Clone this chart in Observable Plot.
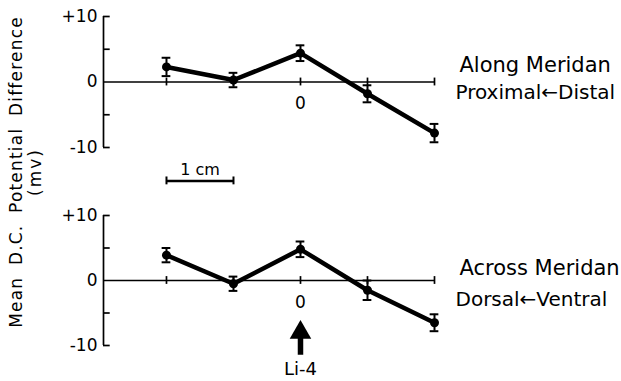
<!DOCTYPE html>
<html>
<head>
<meta charset="utf-8">
<script src="https://cdn.jsdelivr.net/npm/d3@7"></script>
<script src="https://cdn.jsdelivr.net/npm/@observablehq/plot@0.6"></script>
<style>
  html, body { margin: 0; padding: 0; background: #fff; }
  #wrap { position: relative; width: 621px; height: 381px; overflow: hidden; font-family: "DejaVu Sans", sans-serif; color: #000; }
  #wrap svg { position: absolute; left: 0; }
  .ytitle { position: absolute; white-space: nowrap; transform: translate(-50%, -50%) rotate(-90deg); font-size: 17px; letter-spacing: 1.2px; word-spacing: 5px; }
</style>
</head>
<body>
<div id="wrap"></div>
<script>
// positions along the line (cm from Li-4)
const positions = [-2, -1, 0, 1, 2];
// Along meridian (proximal <- distal)
const alongMean = [2.3, 0.3, 4.4, -1.8, -7.8];
const alongErr  = [1.4, 1.1, 1.2, 1.3, 1.4];
// Across meridian (dorsal <- ventral)
const acrossMean = [3.9, -0.5, 4.8, -1.5, -6.5];
const acrossErr  = [1.1, 1.1, 1.2, 1.5, 1.3];
// axis ticks & labels
const yTicks = [-10, -5, 0, 5, 10];
const yTickLabels = [{v: 10, t: "+10"}, {v: 0, t: "0"}, {v: -10, t: "-10"}];
const xLabelled = [{v: 0, t: "0"}];
const xMin = -2.94, xMax = 2;

const font = "DejaVu Sans, sans-serif";

function panel(means, errs, opts) {
  const data = positions.map((x, i) => ({x, y: means[i], lo: means[i] - errs[i], hi: means[i] + errs[i]}));
  const cap = 0.065;
  const marks = [
    // axes
    Plot.ruleX([xMin], {y1: -10, y2: 10, stroke: "black", strokeWidth: 1.7}),
    Plot.ruleY(yTicks.filter(d => d !== 0), {x1: xMin, x2: xMin + 0.1, stroke: "black", strokeWidth: 1.7}),
    Plot.ruleY([0], {x1: xMin, x2: xMax, stroke: "black", strokeWidth: 1.7}),
    Plot.ruleX(positions, {y1: -0.6, y2: 0.6, stroke: "black", strokeWidth: 1.7}),
    Plot.text(yTickLabels, {x: xMin, y: "v", text: "t", dx: -6, textAnchor: "end", fontSize: 17, fontFamily: font}),
    Plot.text(xLabelled, {x: "v", y: 0, text: "t", dy: 22, fontSize: 17, fontFamily: font}),
    // error bars
    Plot.ruleX(data, {x: "x", y1: "lo", y2: "hi", stroke: "black", strokeWidth: 2}),
    Plot.ruleY(data, {y: "hi", x1: d => d.x - cap, x2: d => d.x + cap, stroke: "black", strokeWidth: 2}),
    Plot.ruleY(data, {y: "lo", x1: d => d.x - cap, x2: d => d.x + cap, stroke: "black", strokeWidth: 2}),
    // line + dots
    Plot.line(data, {x: "x", y: "y", stroke: "black", strokeWidth: 4.5}),
    Plot.dot(data, {x: "x", y: "y", r: 4.5, fill: "black"}),
    // right-hand labels
    Plot.text([opts.label1], {x: xMax, y: opts.l1y, text: d => d, dx: 25, textAnchor: "start", fontSize: 21, fontFamily: font}),
    Plot.text([opts.label2], {x: xMax, y: opts.l2y, text: d => d, dx: 21, textAnchor: "start", fontSize: 20, fontFamily: font}),
    ...(opts.extra || [])
  ];
  return Plot.plot({
    width: 621,
    height: opts.height,
    marginLeft: 103,
    marginRight: 187,
    marginTop: opts.marginTop,
    marginBottom: opts.marginBottom,
    x: {domain: [xMin, xMax], axis: null},
    y: {domain: [-10, 10], axis: null},
    style: {background: "transparent", fontFamily: font, overflow: "visible"},
    marks
  });
}

const topPanel = panel(alongMean, alongErr, {
  height: 190, marginTop: 16, marginBottom: 43,
  label1: "Along Meridan", label2: "Proximal\u2190Distal", l1y: 2.6, l2y: -1.6,
  extra: [
    // 1 cm scale bar
    Plot.ruleY([-15.1], {x1: -2, x2: -1, stroke: "black", strokeWidth: 2.5}),
    Plot.ruleX([-2, -1], {y1: -14.5, y2: -15.7, stroke: "black", strokeWidth: 2}),
    Plot.text(["1 cm"], {x: -1.5, y: -13.4, text: d => d, fontSize: 16, fontFamily: font})
  ]
});
topPanel.style.top = "0px";

const bottomPanel = panel(acrossMean, acrossErr, {
  height: 191, marginTop: 25, marginBottom: 36,
  label1: "Across Meridan", label2: "Dorsal\u2190Ventral", l1y: 1.9, l2y: -3.0,
  extra: [
    // Li-4 arrow
    Plot.ruleX([0], {y1: -11.5, y2: -8.6, stroke: "black", strokeWidth: 5.5}),
    Plot.dot([0], {x: d => d, y: -8.0, symbol: "triangle", r: 8, fill: "black"}),
    Plot.text(["Li-4"], {x: 0, y: -13.7, text: d => d, fontSize: 18, fontFamily: font})
  ]
});
bottomPanel.style.top = "190px";

const wrap = document.getElementById("wrap");
wrap.appendChild(topPanel);
wrap.appendChild(bottomPanel);

const t1 = document.createElement("div");
t1.className = "ytitle";
t1.textContent = "Mean D.C. Potential Difference";
t1.style.left = "16px"; t1.style.top = "172px";
wrap.appendChild(t1);

const t2 = document.createElement("div");
t2.className = "ytitle";
t2.textContent = "(mv)";
t2.style.left = "35px"; t2.style.top = "172px";
t2.style.letterSpacing = "2px";
wrap.appendChild(t2);
</script>
</body>
</html>
